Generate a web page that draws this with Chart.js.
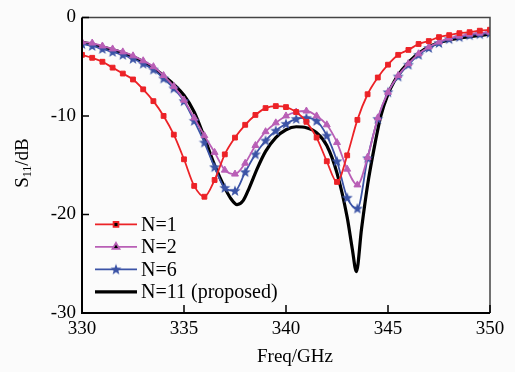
<!DOCTYPE html>
<html>
<head>
<meta charset="utf-8">
<script src="https://cdn.jsdelivr.net/npm/chart.js@4/dist/chart.umd.min.js"></script>
<style>
  html, body { margin: 0; padding: 0; background: #fbfbfb; }
  #wrap { width: 515px; height: 372px; }
</style>
</head>
<body>
<div id="wrap"><canvas id="s11-chart" width="515" height="372"></canvas></div>
<script>
// frequency grid of the marked curves (GHz)
const freq = [330, 330.5, 331, 331.5, 332, 332.5, 333, 333.5, 334, 334.5,
  335, 335.5, 336, 336.5, 337, 337.5, 338, 338.5, 339, 339.5,
  340, 340.5, 341, 341.5, 342, 342.5, 343, 343.5, 344, 344.5,
  345, 345.5, 346, 346.5, 347, 347.5, 348, 348.5, 349, 349.5, 350]

const n1 = [-3.8, -4.1, -4.5, -5.1, -5.7, -6.3, -7.3, -8.5, -10.0, -11.9,
  -14.4, -17.1, -18.2, -16.5, -13.9, -12.2, -10.9, -9.9, -9.2, -9.0,
  -9.1, -9.6, -10.6, -12.2, -14.6, -16.7, -14.0, -10.4, -7.8, -6.1,
  -4.8, -3.8, -3.3, -2.7, -2.4, -2.0, -1.8, -1.6, -1.5, -1.35, -1.25]

const n2 = [-2.5, -2.6, -2.9, -3.2, -3.5, -3.9, -4.4, -5.0, -5.9, -7.0,
  -8.4, -10.2, -12.0, -13.7, -15.5, -15.9, -14.8, -13.0, -11.6, -10.7,
  -10.0, -9.6, -9.5, -10.0, -10.9, -12.7, -15.4, -17.0, -14.2, -10.2,
  -7.6, -5.9, -4.7, -3.7, -3.0, -2.5, -2.1, -1.9, -1.7, -1.6, -1.5]

const n6 = [-2.7, -2.9, -3.2, -3.5, -3.8, -4.2, -4.7, -5.3, -6.2, -7.2,
  -8.5, -10.5, -12.7, -15.2, -17.3, -17.6, -15.7, -13.9, -12.5, -11.5,
  -10.8, -10.3, -10.2, -10.5, -12.0, -14.6, -18.3, -19.4, -14.3, -10.3,
  -7.6, -6.0, -4.8, -3.8, -3.1, -2.6, -2.2, -2.0, -1.8, -1.7, -1.6]

// proposed design, read at its own points
const freq11 = [330, 331, 332, 333, 334, 335, 335.5, 336, 336.5, 337, 337.3, 337.6, 337.9,
  338.2, 338.6, 339, 339.5, 340, 340.5, 341, 341.5, 342, 342.5, 343, 343.25, 343.45,
  343.7, 344, 344.3, 344.65, 345, 345.3, 345.7, 346.4, 347.2, 348.2, 349.2, 350]
const n11 = [-2.5, -3.0, -3.6, -4.5, -5.9, -7.9, -9.6, -12.2, -15.0, -17.3, -18.4, -19.0, -18.6,
  -17.3, -15.3, -13.6, -12.2, -11.4, -11.1, -11.2, -11.7, -13.0, -15.8, -20.3, -23.5, -25.8,
  -21.5, -17.0, -13.5, -10.0, -7.8, -6.5, -5.3, -3.8, -2.8, -2.2, -1.9, -1.7]

const xTicks = [330, 335, 340, 345, 350]
const yTicks = [0, -10, -20, -30]
const labels = ['N=1', 'N=2', 'N=6', 'N=11 (proposed)']

const serif = "'Liberation Serif', 'Times New Roman', serif"

const toXY = (xs, ys) => xs.map((x, i) => ({ x: x, y: ys[i] }))

// filled five point star for N=6
const starImg = document.createElement('canvas')
starImg.width = 12
starImg.height = 12
;(() => {
  const c = starImg.getContext('2d')
  c.fillStyle = '#3b53a6'
  c.beginPath()
  for (let i = 0; i < 10; i++) {
    const r = i % 2 === 0 ? 5.8 : 2.4
    const a = -Math.PI / 2 + i * Math.PI / 5
    const px = 6 + r * Math.cos(a), py = 6.3 + r * Math.sin(a)
    i === 0 ? c.moveTo(px, py) : c.lineTo(px, py)
  }
  c.closePath()
  c.fill()
})()

const frame = {
  id: 'frame',
  afterDatasetsDraw: (chart) => {
    const c = chart.ctx, a = chart.chartArea
    const xs = chart.scales.x, ys = chart.scales.y
    c.save()
    // top + right
    c.strokeStyle = '#444'
    c.lineWidth = 1.5
    c.beginPath()
    c.moveTo(a.left, a.top)
    c.lineTo(a.right, a.top)
    c.lineTo(a.right, a.bottom)
    c.stroke()
    // left + bottom
    c.strokeStyle = '#000'
    c.lineWidth = 2
    c.beginPath()
    c.moveTo(a.left, a.top)
    c.lineTo(a.left, a.bottom)
    c.lineTo(a.right, a.bottom)
    c.stroke()
    // inward ticks
    c.lineWidth = 1.5
    c.beginPath()
    yTicks.forEach((v) => {
      const y = ys.getPixelForValue(v)
      c.moveTo(a.left, y)
      c.lineTo(a.left + 7, y)
    })
    xTicks.forEach((v) => {
      const x = xs.getPixelForValue(v)
      c.moveTo(x, a.bottom)
      c.lineTo(x, a.bottom - 8)
    })
    c.stroke()

    // legend
    c.font = '20px ' + serif
    c.fillStyle = '#000'
    c.textBaseline = 'middle'
    chart.data.datasets.forEach((ds, i) => {
      const y = a.top + 207 + i * 22.5
      c.strokeStyle = ds.borderColor
      c.lineWidth = ds.borderWidth
      c.beginPath()
      c.moveTo(a.left + 13, y)
      c.lineTo(a.left + 55, y)
      c.stroke()
      if (ds.pointRadius > 0) {
        Chart.helpers.drawPoint(c, {
          pointStyle: ds.pointStyle,
          radius: ds.pointRadius,
          rotation: 0,
          borderWidth: 1
        }, a.left + 34, y)
      }
      c.fillStyle = '#000'
      c.textAlign = 'left'
      c.fillText(labels[i], a.left + 59, y + 1)
    })

    // axis titles
    c.font = '19px ' + serif
    c.textAlign = 'center'
    c.fillText('Freq/GHz', 295, 357)

    c.translate(23, 163)
    c.rotate(-Math.PI / 2)
    c.textAlign = 'left'
    const wS = c.measureText('S').width
    const wD = c.measureText('/dB').width
    c.font = '12px ' + serif
    const wSub = c.measureText('11').width
    let x0 = -(wS + wSub + wD) / 2
    c.font = '19px ' + serif
    c.fillText('S', x0, 0)
    c.font = '12px ' + serif
    c.fillText('11', x0 + wS, 5)
    c.font = '19px ' + serif
    c.fillText('/dB', x0 + wS + wSub, 0)
    c.restore()
  }
}

const markerSet = (data, color, style, radius) => ({
  data: data,
  borderColor: color,
  backgroundColor: color,
  pointBackgroundColor: color,
  pointBorderColor: color,
  pointStyle: style,
  pointRadius: radius,
  pointBorderWidth: 1,
  borderWidth: 1.8,
  cubicInterpolationMode: 'monotone'
})

const ctx = document.getElementById('s11-chart').getContext('2d')
const s11Chart = new Chart(ctx, {
  type: 'line',
  data: {
    datasets: [
      markerSet(toXY(freq, n1), '#ec2227', 'rect', 3.4),
      markerSet(toXY(freq, n2), '#b95fb6', 'triangle', 4),
      markerSet(toXY(freq, n6), '#3b53a6', starImg, 5),
      {
        data: toXY(freq11, n11),
        borderColor: '#000',
        backgroundColor: '#000',
        borderWidth: 3.2,
        pointRadius: 0,
        cubicInterpolationMode: 'monotone'
      }
    ]
  },
  options: {
    responsive: false,
    animation: false,
    layout: { padding: { top: 16, right: 25, left: 0, bottom: 0 } },
    plugins: { legend: { display: false }, tooltip: { enabled: false } },
    scales: {
      x: {
        type: 'linear',
        min: 330,
        max: 350,
        afterFit: (s) => { s.height = 59 },
        afterBuildTicks: (s) => { s.ticks = xTicks.map((v) => ({ value: v })) },
        grid: { display: false, drawTicks: false },
        border: { display: false },
        ticks: { padding: 5, color: '#000', font: { family: serif, size: 19 } }
      },
      y: {
        type: 'linear',
        min: -30,
        max: 0,
        afterFit: (s) => { s.width = 82 },
        afterBuildTicks: (s) => { s.ticks = yTicks.map((v) => ({ value: v })) },
        grid: { display: false, drawTicks: false },
        border: { display: false },
        ticks: { padding: 6, color: '#000', font: { family: serif, size: 19 } }
      }
    }
  },
  plugins: [frame]
})
</script>
</body>
</html>
